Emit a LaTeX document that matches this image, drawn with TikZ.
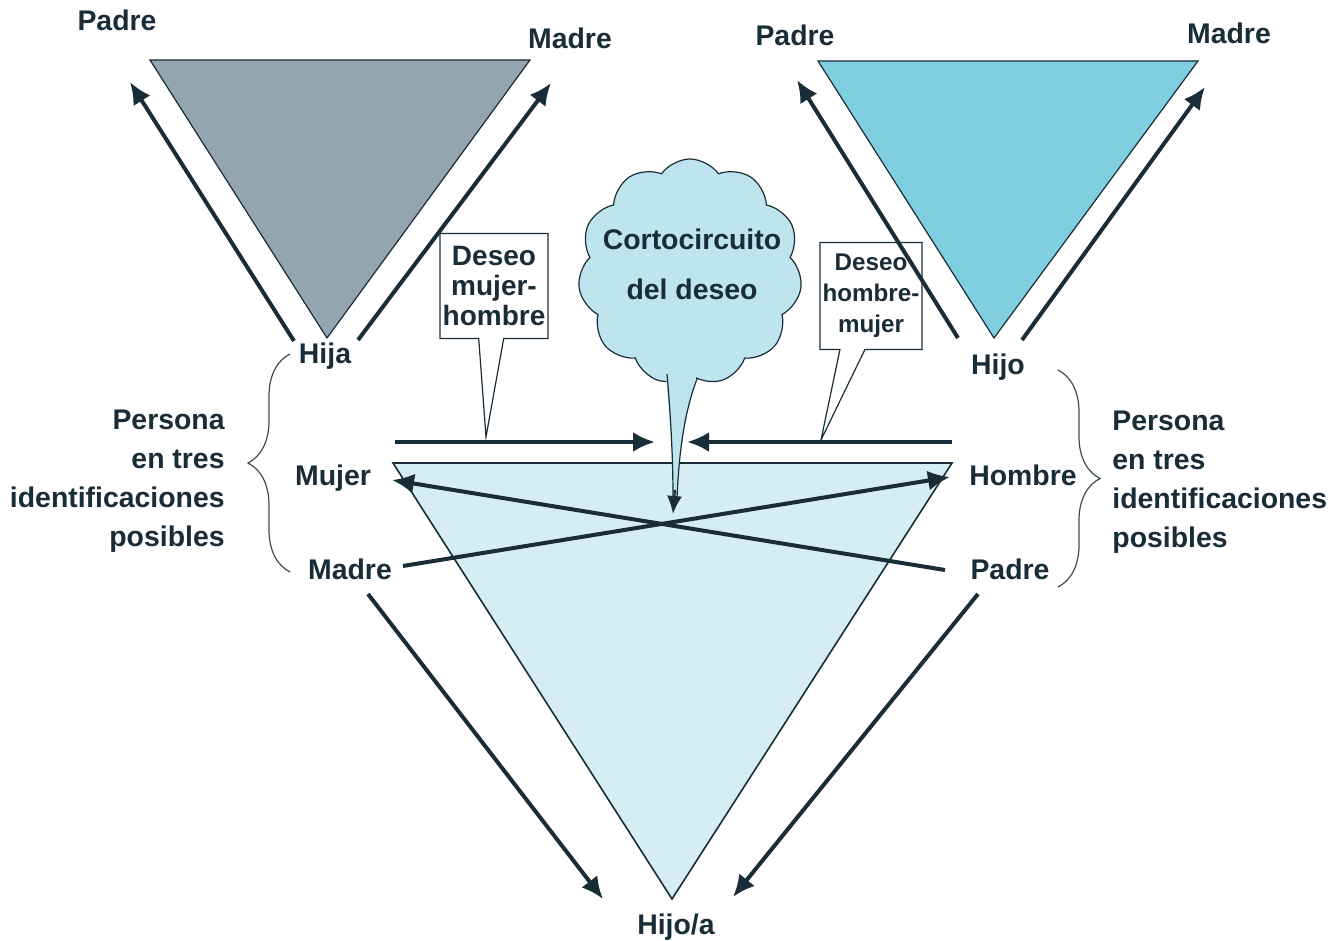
\documentclass[tikz,border=0pt]{standalone}
\usepackage{fontspec}
\setmainfont{Liberation Sans}
\usepackage{xcolor}
\usetikzlibrary{arrows.meta,positioning,calc,shapes.symbols,shapes.callouts,decorations.pathreplacing}

\definecolor{tinta}{HTML}{182D38}
\definecolor{gristri}{HTML}{93A5AE}
\definecolor{azultri}{HTML}{7FCFE1}
\definecolor{celeste}{HTML}{D6EDF4}
\definecolor{nube}{HTML}{BEE4EE}

\begin{document}
\begin{tikzpicture}[x=0.5pt, y=-0.5pt,
  etiq/.style={font=\bfseries\fontsize{14.2}{16}\selectfont, text=tinta, inner sep=0pt, anchor=base},
  etiqsup/.style={font=\bfseries\fontsize{14.2}{16}\selectfont, text=tinta, inner sep=0pt, anchor=base},
  lado/.style={font=\bfseries\fontsize{14.2}{19.4}\selectfont, text=tinta, inner sep=0pt},
  flecha/.style={-{Latex[length=11pt,width=10pt]}, line width=2pt, draw=tinta},
  borde/.style={draw=tinta, line width=0.6pt},
  llave/.style={decorate, decoration={brace, amplitude=21pt}, draw=tinta!85, line width=0.6pt},
  globo/.style={rectangle callout, draw=tinta, fill=white, line width=0.6pt, align=center,
    text=tinta, inner sep=1pt, callout pointer width=12.5pt}]
  \useasboundingbox (0,0) rectangle (1335,941);
  % triangulos
  \filldraw[fill=gristri, borde] (150,60) -- (530,60) -- (327,338) -- cycle;
  \filldraw[fill=azultri, borde] (818,61) -- (1198,61) -- (994,338) -- cycle;
  \filldraw[fill=celeste, draw=tinta, line width=0.8pt] (393,463) -- (952,463) -- (672,899) -- cycle;
  % globos de texto
  \node[globo, font=\bfseries\fontsize{14}{15}\selectfont, callout absolute pointer={(486,437)},
    minimum width=54pt, minimum height=52.5pt] (deseoMH) at (494,286) {Deseo\\mujer-\\hombre};
  \node[globo, font=\bfseries\fontsize{12.1}{15.5}\selectfont, callout absolute pointer={(821,440)},
    minimum width=51pt, minimum height=53.5pt] (deseoHM) at (871,296) {Deseo\\hombre-\\mujer};
  % nube
  \node[cloud, cloud puffs=11, cloud puff arc=110, aspect=1, draw=tinta, fill=nube, line width=0.6pt,
    minimum width=112pt, minimum height=113pt] (nubeC) at (690,272) {};
  \fill[nube] (664,355) .. controls (670,420) and (673,460) .. (673,498) -- (677,498)
    .. controls (679,450) and (686,405) .. (703,355) -- cycle;
  \draw[borde] (667,374) .. controls (671,420) and (673,460) .. (673,498);
  \draw[borde] (677,498) .. controls (679,450) and (685,410) .. (697,379);
  \coordinate (colaA) at (675,490);
  \coordinate (colaB) at (673,514);
  \draw[-{Latex[length=9pt,width=7.5pt]}, draw=tinta, line width=1pt] (colaA) -- (colaB);
  \node[font=\bfseries\fontsize{14.2}{25}\selectfont, text=tinta, align=center] (corto) at (692,264)
    {Cortocircuito\\del deseo};
  % etiquetas
  \node[etiqsup] (padreI) at (117,31) {Padre};
  \node[etiqsup] (madreI) at (570,49) {Madre};
  \node[etiqsup] (padreD) at (795,46) {Padre};
  \node[etiqsup] (madreD) at (1229,44) {Madre};
  \node[etiq] (hija) at (325,364) {Hija};
  \node[etiq] (hijo) at (998,375) {Hijo};
  \node[etiq] (mujer) at (333,486) {Mujer};
  \node[etiq] (hombre) at (1023,486) {Hombre};
  \node[etiq] (madreM) at (350,580) {Madre};
  \node[etiq] (padreM) at (1010,580) {Padre};
  \node[etiq] (hijoa) at (676,934) {Hijo/a};
  \node[lado, align=right, anchor=east] (personaI) at (225,481)
    {Persona\\en tres\\identificaciones\\posibles};
  \node[lado, align=left, anchor=west] (personaD) at (1112,482)
    {Persona\\en tres\\identificaciones\\posibles};
  % llaves
  \draw[llave] (290,572) -- (290,354);
  \draw[llave] (1058,370) -- (1058,587);
  % extremos de flechas
  \coordinate (hijaI) at (294,341);
  \coordinate (hijaD) at (358,340);
  \coordinate (haciaPadreI) at (130,82);
  \coordinate (haciaMadreI) at (551,83);
  \coordinate (hijoI) at (958,338);
  \coordinate (hijoD) at (1022,340);
  \coordinate (haciaPadreD) at (797,80);
  \coordinate (haciaMadreD) at (1205,87);
  \coordinate (madreX) at (403,566);
  \coordinate (hombreX) at (950,477);
  \coordinate (padreX) at (945,570);
  \coordinate (mujerX) at (392,480);
  \coordinate (madreB) at (368,594);
  \coordinate (padreB) at (978,594);
  \coordinate (hijoaI) at (603,899);
  \coordinate (hijoaD) at (733,897);
  \coordinate (desdeMH) at (395,442);
  \coordinate (hastaMH) at (655,442);
  \coordinate (desdeHM) at (952,442);
  \coordinate (hastaHM) at (687,442);
  % flechas
  \draw[flecha] (hijaI) -- (haciaPadreI);
  \draw[flecha] (hijaD) -- (haciaMadreI);
  \draw[flecha] (hijoI) -- (haciaPadreD);
  \draw[flecha] (hijoD) -- (haciaMadreD);
  \draw[flecha] (madreX) -- (hombreX);
  \draw[flecha] (padreX) -- (mujerX);
  \draw[flecha] (madreB) -- (hijoaI);
  \draw[flecha] (padreB) -- (hijoaD);
  \draw[flecha] (desdeMH) -- (hastaMH);
  \draw[flecha] (desdeHM) -- (hastaHM);
\end{tikzpicture}
\end{document}
